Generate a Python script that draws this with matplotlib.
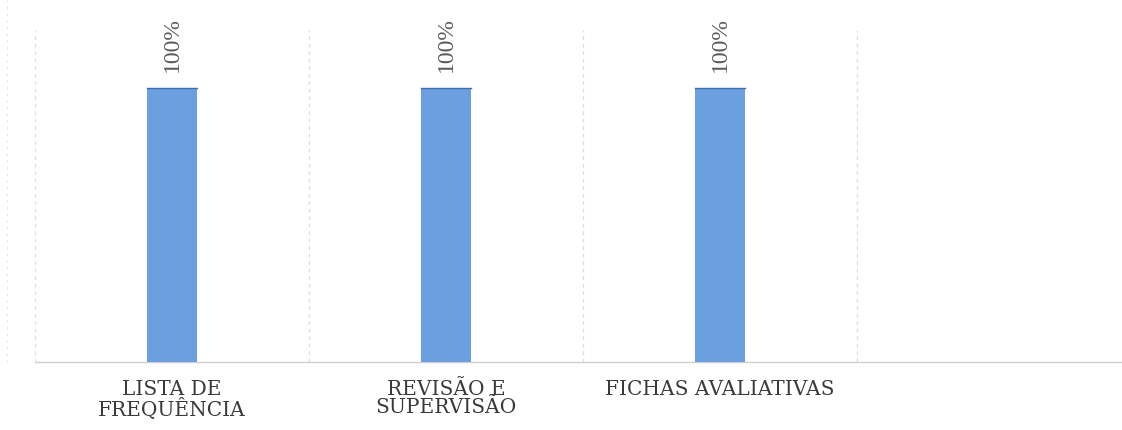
import matplotlib
matplotlib.use("Agg")
import matplotlib.pyplot as plt
from matplotlib.lines import Line2D

categories = ["LISTA DE\nFREQUÊNCIA", "REVISÃO E\nSUPERVISÃO", "FICHAS AVALIATIVAS", ""]
values = [1.0, 1.0, 1.0, None]
value_labels = ["100%", "100%", "100%", ""]

W, H = 1122, 430
fig = plt.figure(figsize=(W / 100, H / 100), dpi=100)
fig.patch.set_facecolor("white")

left_px, cat_px = 35, 274
ax = fig.add_axes([left_px / W, (H - 362) / H, cat_px * len(categories) / W, (362 - 30) / H])
ax.set_facecolor("white")

xs = list(range(len(categories)))
bar_color = "#6a9fe0"
for x, v, lab in zip(xs, values, value_labels):
    if v is None:
        continue
    ax.bar(x, v, width=0.183, color=bar_color, edgecolor="none", zorder=3)
    ax.plot([x - 0.0915, x + 0.0915], [v, v], color="#3f6fb0", lw=1.0, zorder=4)
    ax.text(x, v + 0.058, lab, rotation=90, ha="center", va="bottom",
            fontsize=17, family="Liberation Serif", color="#5a5a5a")

ax.set_xlim(-0.5, len(categories) - 0.5)
ax.set_ylim(0, 1.21)

for b in range(len(categories)):
    ax.axvline(b - 0.5, color="#dddddd", lw=0.9, ls=(0, (3, 3)), zorder=1)

for s in ["top", "right", "left"]:
    ax.spines[s].set_visible(False)
ax.spines["bottom"].set_color("#cfcfcf")
ax.spines["bottom"].set_linewidth(1.0)

ax.set_yticks([])
ax.set_xticks(xs)
ax.set_xticklabels(categories, family="DejaVu Serif", fontsize=14.5,
                   color="#3a3a3a", linespacing=0.95)
ax.tick_params(axis="x", length=0, pad=13)

fig.add_artist(Line2D([7 / W, 7 / W], [(H - 362) / H, 1.0], transform=fig.transFigure,
                      color="#e4e4e4", lw=0.8, ls=(0, (2, 4))))

fig.savefig("out.png", dpi=100, facecolor="white")
